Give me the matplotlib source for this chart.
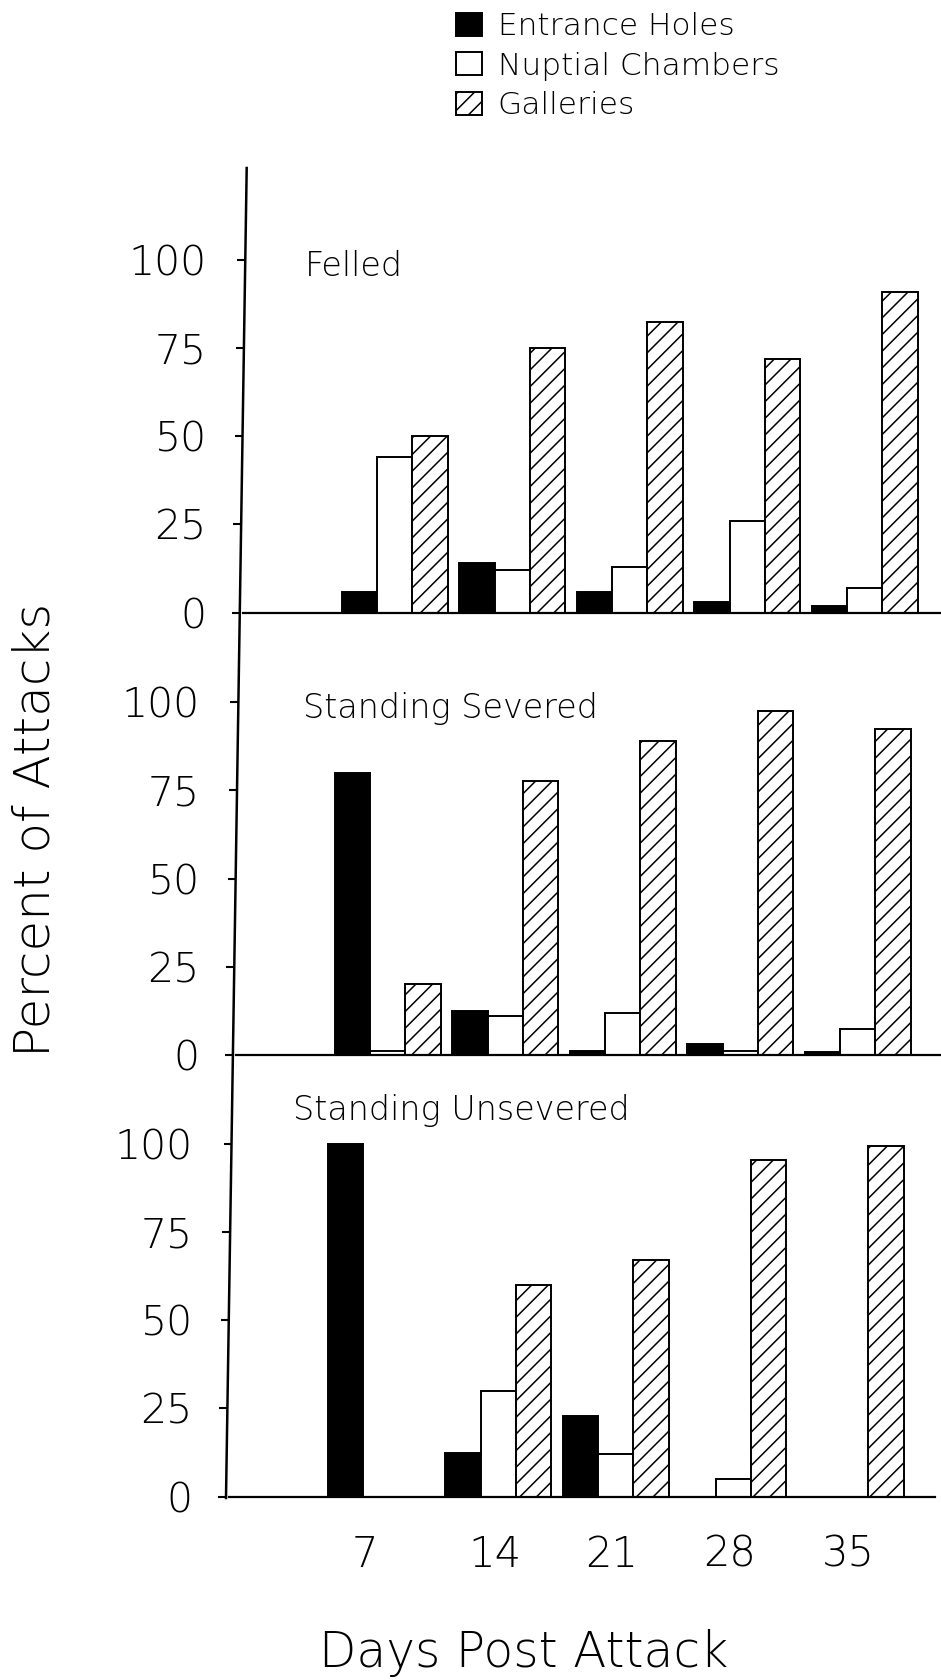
import matplotlib
matplotlib.use("Agg")
import matplotlib.pyplot as plt
from matplotlib.transforms import blended_transform_factory, ScaledTranslation
from matplotlib.lines import Line2D
import numpy as np

# ---- data -------------------------------------------------------------
days = [7, 14, 21, 28, 35]
series = ["Entrance Holes", "Nuptial Chambers", "Galleries"]
panels = ["Felled", "Standing Severed", "Standing Unsevered"]

felled_entrance = [6, 14, 6, 3, 2]
felled_nuptial = [44, 12, 13, 26, 7]
felled_galleries = [50, 75, 82.5, 72, 91]

severed_entrance = [80, 12.5, 1, 3, 0.8]
severed_nuptial = [1, 11, 12, 1, 7.5]
severed_galleries = [20, 77.5, 89, 97.5, 92.5]

unsevered_entrance = [100, 12.5, 23, 0, 0]
unsevered_nuptial = [0, 30, 12, 5, 0]
unsevered_galleries = [0, 60, 67, 95.5, 99.5]

y_ticks = [0, 25, 50, 75, 100]
y_tick_labels = ["0", "25", "50", "75", "100"]
x_tick_labels = ["7", "14", "21", "28", "35"]

panel_data = [
    (felled_entrance, felled_nuptial, felled_galleries),
    (severed_entrance, severed_nuptial, severed_galleries),
    (unsevered_entrance, unsevered_nuptial, unsevered_galleries),
]

# ---- layout (pixels) --------------------------------------------------
W, H, DPI = 941, 1680, 100
PANEL_H = 442.2
Y_TOP = 125.3
PX_PER_DAY = 16.79
DAY_LEFT = -2.05
BAR_W = 2.1
# (left, right, bottom) of each panel
panel_box = [(242.8, 941, 612.7), (235.8, 941, 1055.0), (228.8, 935, 1496.7)]
# the common vertical axis is drawn as one slightly leaning line
AX_X0, AX_Y0, AX_X1, AX_Y1 = 246.7, 168.0, 226.0, 1498.0
TICK_LEN = 8

title_pos = [(1.65, 95.4), (1.93, 95.4), (1.80, 106.7)]

styles = [
    dict(facecolor="black", hatch=None),
    dict(facecolor="white", hatch=None),
    dict(facecolor="white", hatch="//"),
]

FONT = "DejaVu Sans"
plt.rcParams["font.family"] = [FONT]
plt.rcParams["font.weight"] = 200
plt.rcParams["hatch.linewidth"] = 1.1
plt.rcParams["hatch.color"] = "black"


def axis_x(y_px):
    return AX_X0 + (AX_X1 - AX_X0) * (y_px - AX_Y0) / (AX_Y1 - AX_Y0)


fig = plt.figure(figsize=(W / DPI, H / DPI), dpi=DPI)
fig.patch.set_facecolor("white")

handles = None
x = np.array(days, dtype=float)
for i, ((left, right, bottom), vals) in enumerate(zip(panel_box, panel_data)):
    ax = fig.add_axes([left / W, 1 - bottom / H, (right - left) / W, PANEL_H / H])
    ax.patch.set_alpha(0)
    bars = []
    for k, (v, st) in enumerate(zip(vals, styles)):
        b = ax.bar(x + (k - 1) * BAR_W, v, BAR_W, color=st["facecolor"],
                   edgecolor="black", linewidth=1.4, hatch=st["hatch"],
                   label=series[k], zorder=2)
        bars.append(b)
    if handles is None:
        handles = bars

    for s in ("top", "right", "left"):
        ax.spines[s].set_visible(False)
    ax.spines["bottom"].set_linewidth(1.6)
    ax.spines["bottom"].set_zorder(3)

    ax.set_yticks(y_ticks)
    ax.set_yticklabels(y_tick_labels)
    ax.tick_params(axis="y", length=0, pad=26, labelsize=29.5)

    if i == len(panel_box) - 1:
        ax.set_xticks(days)
        ax.set_xticklabels(x_tick_labels)
        ax.tick_params(axis="x", length=0, pad=26.5, labelsize=30)
        shifts = [-16, -3, -4, -4, -3]
        for lbl, dx in zip(ax.get_xticklabels(), shifts):
            lbl.set_transform(lbl.get_transform()
                              + ScaledTranslation(dx / DPI, 0, fig.dpi_scale_trans))
    else:
        ax.set_xticks([])

    ax.text(title_pos[i][0], title_pos[i][1], panels[i], fontsize=24,
            ha="left", va="baseline")

    # short outward tick marks against the leaning axis line
    trans = blended_transform_factory(fig.dpi_scale_trans, ax.transData)
    for v in y_ticks:
        y_px = bottom - v * PANEL_H / Y_TOP
        xl = axis_x(y_px)
        ax.plot([(xl - TICK_LEN) / DPI, xl / DPI], [v, v], transform=trans,
                color="black", lw=1.5, clip_on=False, solid_capstyle="butt")

    ax.set_xlim(DAY_LEFT, DAY_LEFT + (right - left) / PX_PER_DAY)
    ax.set_ylim(0, Y_TOP)

# shared vertical axis line
fig.add_artist(Line2D([AX_X0 / W, AX_X1 / W], [1 - AX_Y0 / H, 1 - AX_Y1 / H],
                      transform=fig.transFigure, color="black", lw=1.8))

fig.text(50 / W, 1 - 830 / H, "Percent of Attacks", rotation=90,
         rotation_mode="anchor", ha="center", va="baseline", fontsize=36)
fig.text(524 / W, 1 - 1667 / H, "Days Post Attack", ha="center",
         va="baseline", fontsize=35)

fig.legend(handles, series, loc="upper left", bbox_to_anchor=(456 / W, 1 - 12 / H),
           frameon=False, fontsize=22.5, handlelength=0.84, handleheight=0.76,
           handletextpad=0.5, labelspacing=0.34, borderpad=0, borderaxespad=0)

fig.savefig("out.png", dpi=DPI, facecolor="white")
